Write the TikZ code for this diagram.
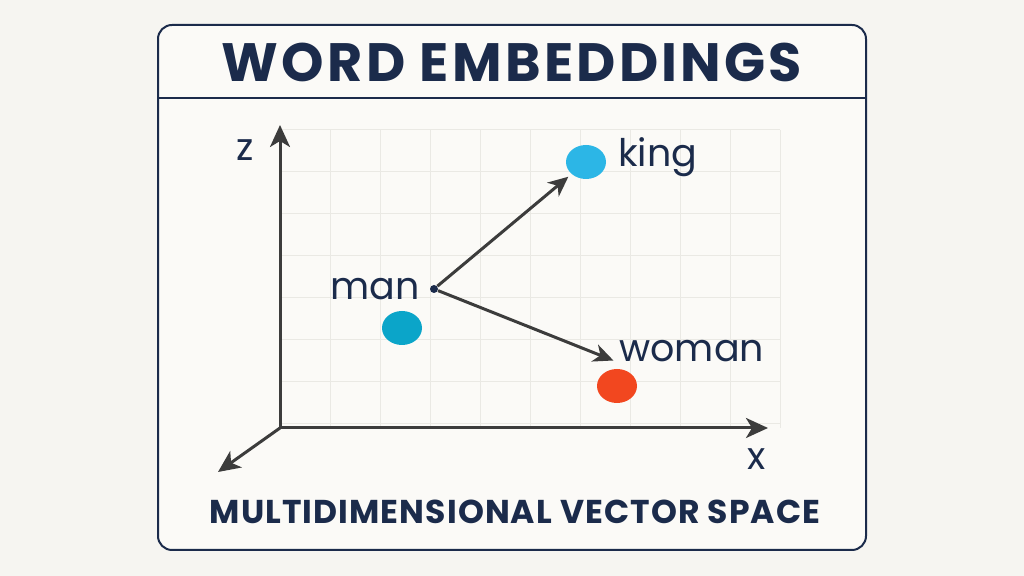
\documentclass[tikz,border=0pt]{standalone}
\usepackage{fontspec}
\setmainfont{Poppins}
\usetikzlibrary{arrows.meta}
\usetikzlibrary{shapes.geometric}

\definecolor{navy}{HTML}{1B2B4B}
\definecolor{axisgray}{HTML}{3C3C3C}
\definecolor{gridgray}{HTML}{EAE9E4}
\definecolor{bggray}{HTML}{F6F5F1}
\definecolor{panel}{HTML}{FBFAF7}
\definecolor{manblue}{HTML}{0BA5C9}
\definecolor{kingblue}{HTML}{2CB6E6}
\definecolor{womanred}{HTML}{F2471F}

\begin{document}
\begin{tikzpicture}[x=0.5pt, y=-0.5pt,
        frame/.style={draw=navy, line width=1pt, rounded corners=7pt},
        gridline/.style={draw=gridgray, line width=0.5pt},
        axis/.style={draw=axisgray, line width=1.5pt, -{Stealth[length=11pt, width=10pt, inset=3pt]}},
        vec/.style={draw=axisgray, line width=1.5pt, -{Stealth[length=10pt, width=9pt, inset=3pt]}},
        word/.style={text=navy, font=\fontsize{19}{22}\selectfont, inner sep=0pt},
        wdot/.style={ellipse, minimum width=20pt, minimum height=17pt, inner sep=0pt}
    ]

    \def\ox{280}
    \def\oy{428}

    \fill[bggray] (0,0) rectangle (1024,576);
    \useasboundingbox (0,0) rectangle (1024,576);
    \draw[frame, fill=panel] (158,25) rectangle (866,550);
    \draw[navy, line width=1pt] (158,98) -- (866,98);
    \node[text=navy, font=\bfseries\fontsize{27}{30}\selectfont\addfontfeatures{LetterSpace=6}] (title) at (512,62) {WORD EMBEDDINGS};

    % grid
    \foreach \gx in {330,380,...,780}
        \draw[gridline] (\gx,130) -- (\gx,\oy);
    \foreach \gy in {130,172,...,424}
        \draw[gridline] (\ox,\gy) -- (780,\gy);

    % axes
    \draw[axis] (\ox,\oy) -- (\ox,125);
    \draw[axis] (\ox,\oy) -- (768,\oy);
    \draw[axis] (\ox,\oy) -- (218,472);
    \node[word, anchor=base] (zlab) at (245,161) {z};
    \node[word, anchor=base] (xlab) at (757,470) {x};

    % words
    \node[wdot, fill=manblue] (mandot) at (402,328) {};
    \node[wdot, fill=kingblue] (kingdot) at (586,162) {};
    \node[wdot, fill=womanred] (womandot) at (617,386) {};
    \node[circle, fill=navy, inner sep=0pt, minimum size=4pt] (o) at (434,289) {};
    \node[word, anchor=base east] (man) at (420,300) {man};
    \node[word, anchor=base west] (king) at (618,167) {king};
    \node[word, anchor=base west] (woman) at (619,362) {woman};

    \draw[vec, shorten >=2pt] (o) -- (kingdot);
    \draw[vec, shorten >=3pt] (o) -- (woman.south west);

    \node[text=navy, font=\bfseries\fontsize{16.5}{19}\selectfont\addfontfeatures{LetterSpace=3.3}] (caption) at (515,512) {MULTIDIMENSIONAL VECTOR SPACE};
\end{tikzpicture}
\end{document}
